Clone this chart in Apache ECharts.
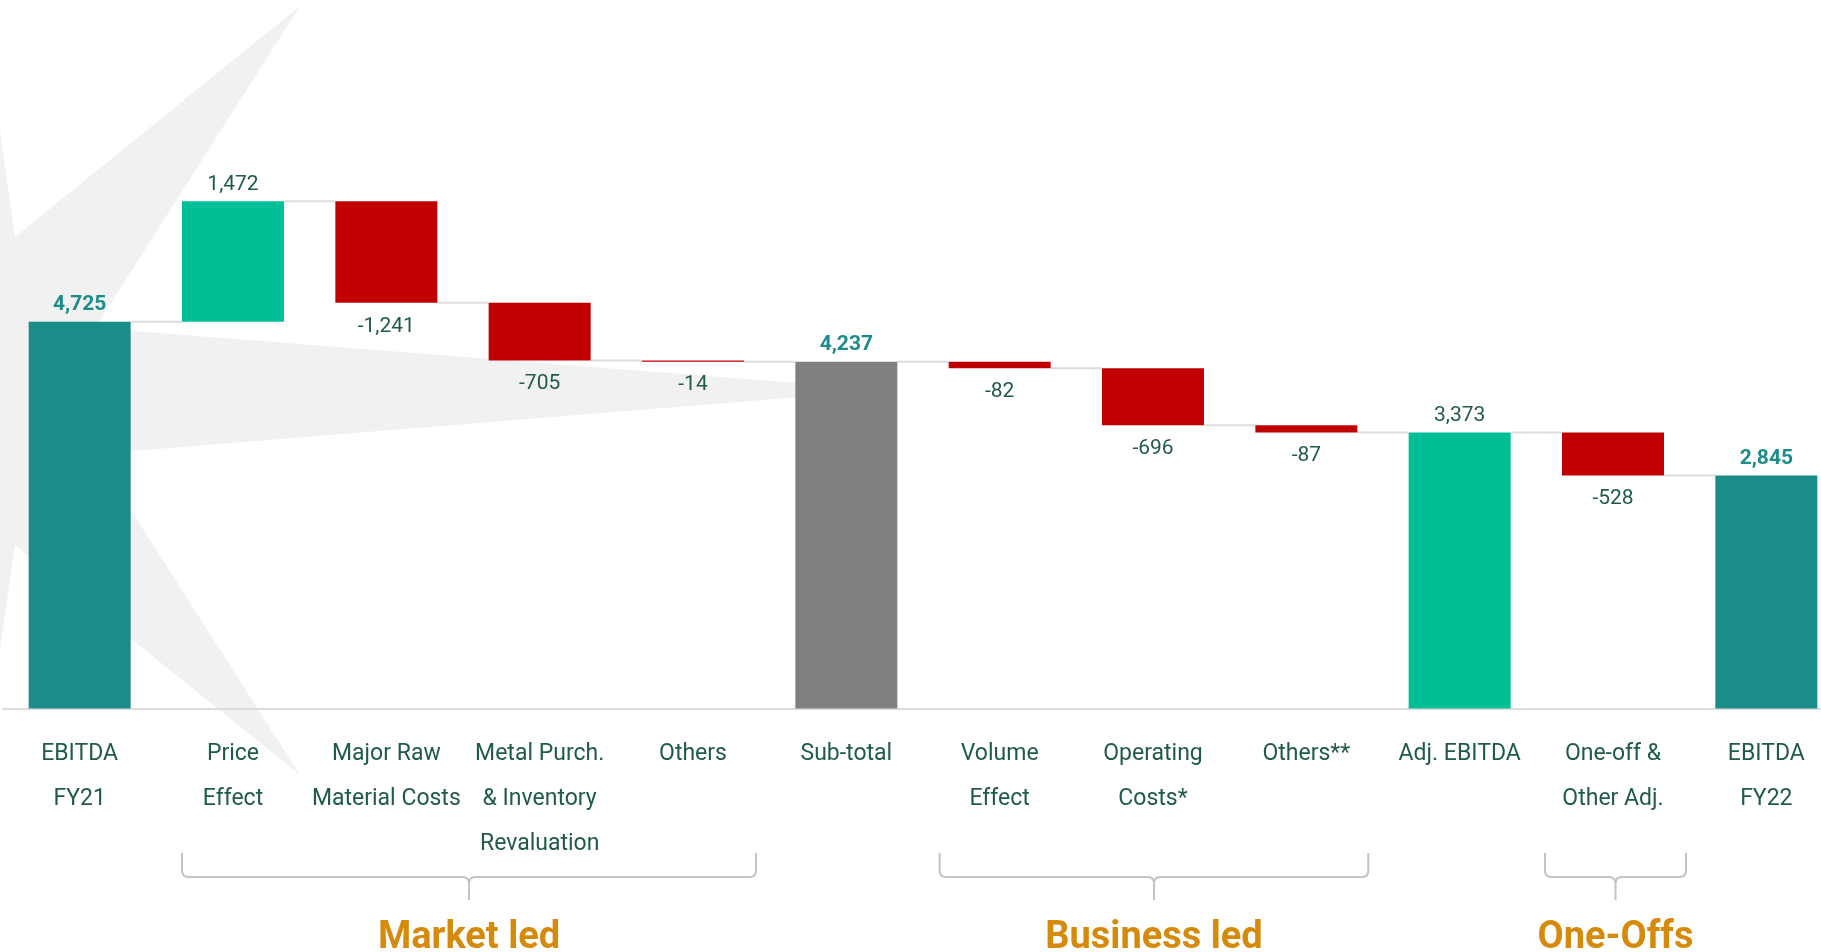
<!DOCTYPE html>
<html>
<head>
<meta charset="utf-8">
<title>EBITDA bridge FY21 to FY22</title>
<script src="https://cdn.jsdelivr.net/npm/echarts@6/dist/echarts.min.js"></script>
<style>
  html, body { margin: 0; padding: 0; background: #ffffff; }
  #chart { width: 1821px; height: 952px; }
</style>
</head>
<body>
<div id="chart"></div>
<script>
// Bridge steps, in order
const categories = [
  'EBITDA\nFY21', 'Price\nEffect', 'Major Raw\nMaterial Costs',
  'Metal Purch.\n& Inventory\nRevaluation', 'Others', 'Sub-total',
  'Volume\nEffect', 'Operating\nCosts*', 'Others**', 'Adj. EBITDA',
  'One-off &\nOther Adj.', 'EBITDA\nFY22'
];
// Totals are absolute levels, the rest are changes
const values = [4725, 1472, -1241, -705, -14, 4237, -82, -696, -87, 3373, -528, 2845];
const isTotal = [true, false, false, false, false, true, false, false, false, true, false, true];
const highlightLabel = [true, false, false, false, false, true, false, false, false, false, false, true];

// Bracketed groups under the axis
const groupNames = ['Market led', 'Business led', 'One-Offs'];
const groupFrom = [1, 6, 10];
const groupTo = [4, 8, 10];

const COLORS = {
  start: '#1b8c8a',
  up: '#00bf96',
  down: '#c00000',
  sub: '#7f7f7f',
  label: '#1f5a4b',
  group: '#d68a0c',
  grid: '#dcdcdc',
  brace: '#c4c4c4',
  star: '#f1f1f1'
};
const FONT = "Roboto, 'Noto Sans', sans-serif";

function barColor(i) {
  if (i === 0 || i === values.length - 1) return COLORS.start;
  if (i === 5) return COLORS.sub;
  if (values[i] >= 0) return COLORS.up;
  return COLORS.down;
}

// Waterfall: invisible base + visible segment, plus the running level after each step
const base = [], seg = [], level = [];
let running = 0;
values.forEach((v, i) => {
  if (isTotal[i]) {
    base.push(0); seg.push(v); running = v;
  } else if (v >= 0) {
    base.push(running); seg.push(v); running += v;
  } else {
    running += v; base.push(running); seg.push(-v);
  }
  level.push(running);
});

const fmt = v => v.toLocaleString('en-US');

const segData = seg.map((h, i) => {
  const below = !isTotal[i] && values[i] < 0;
  return {
    value: h,
    itemStyle: { color: barColor(i) },
    label: {
      show: true,
      position: below ? 'bottom' : 'top',
      distance: below ? 13 : 6,
      formatter: fmt(values[i]),
      fontFamily: FONT,
      fontSize: 21,
      fontWeight: highlightLabel[i] ? 'bold' : 'normal',
      color: highlightLabel[i] ? COLORS.start : COLORS.label
    }
  };
});

const connectorData = level.slice(0, -1).map((l, i) => [i, l]);

const chart = echarts.init(document.getElementById('chart'));
const BAR_W = 102;

chart.setOption({
  animation: false,
  backgroundColor: '#ffffff',
  grid: {
    left: 3, width: 1840, top: 53.6, bottom: 243.5,
    containLabel: false, outerBoundsMode: 'none'
  },
  xAxis: {
    type: 'category',
    data: categories,
    axisLine: { show: true, lineStyle: { color: COLORS.grid, width: 2 } },
    axisTick: { show: false },
    axisLabel: {
      interval: 0,
      margin: 23,
      fontFamily: FONT,
      fontSize: 23,
      lineHeight: 45,
      color: COLORS.label
    }
  },
  yAxis: {
    type: 'value', min: 0, max: 8000, show: false,
    splitLine: { show: false }
  },
  series: [
    {
      name: 'base', type: 'bar', stack: 'wf', barWidth: BAR_W,
      itemStyle: { color: 'transparent' }, silent: true,
      data: base
    },
    {
      name: 'step', type: 'bar', stack: 'wf', barWidth: BAR_W,
      data: segData
    },
    {
      name: 'connector', type: 'custom', silent: true, z: 1,
      data: connectorData,
      renderItem: function (params, api) {
        const i = api.value(0), l = api.value(1);
        const a = api.coord([i, l]);
        const b = api.coord([i + 1, l]);
        const half = BAR_W / 2;
        return {
          type: 'line',
          shape: { x1: a[0] + half, y1: a[1], x2: b[0] - half, y2: b[1] },
          style: { stroke: COLORS.grid, lineWidth: 2 }
        };
      }
    }
  ]
});

// Decorative star in the background
const graphics = [{
  type: 'polygon', z: -10, silent: true,
  shape: { points: [[0, 130], [15, 237], [300, 6], [95, 328], [887, 390], [95, 454], [300, 775], [15, 545], [0, 650]] },
  style: { fill: COLORS.star }
}];

// Braces and group titles, placed from the category axis
const padL = [0, 9, 17], padR = [12, 11, 22];
const yTop = 853, yMid = 877, yTip = 900, yText = 938, r = 5;
groupNames.forEach((name, g) => {
  const x1 = chart.convertToPixel({ xAxisIndex: 0 }, groupFrom[g]) - BAR_W / 2 - padL[g];
  const x2 = chart.convertToPixel({ xAxisIndex: 0 }, groupTo[g]) + BAR_W / 2 + padR[g];
  const cx = (x1 + x2) / 2;
  const lineStyle = { stroke: COLORS.brace, lineWidth: 2, fill: null };
  graphics.push({
    type: 'polyline', silent: true,
    shape: { points: [[x1, yTop], [x1, yMid - r], [x1 + 1.5, yMid - 1.5], [x1 + r, yMid], [cx - r, yMid], [cx - 1.5, yMid + 1.5], [cx, yMid + r], [cx, yTip]] },
    style: lineStyle
  });
  graphics.push({
    type: 'polyline', silent: true,
    shape: { points: [[x2, yTop], [x2, yMid - r], [x2 - 1.5, yMid - 1.5], [x2 - r, yMid], [cx + r, yMid], [cx + 1.5, yMid + 1.5], [cx, yMid + r]] },
    style: lineStyle
  });
  graphics.push({
    type: 'text', silent: true,
    x: cx, y: yText,
    style: {
      text: name, fill: COLORS.group,
      font: `bold 38px ${FONT}`,
      align: 'center', verticalAlign: 'middle'
    }
  });
});
chart.setOption({ graphic: graphics });
</script>
</body>
</html>
